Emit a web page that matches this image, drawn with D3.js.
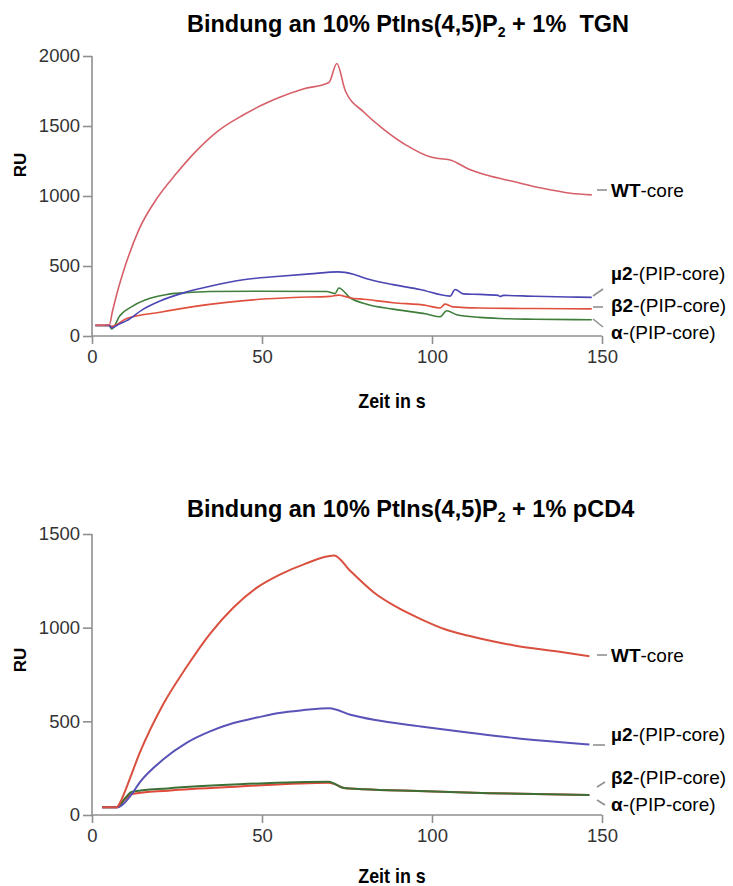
<!DOCTYPE html>
<html>
<head>
<meta charset="utf-8">
<script src="https://cdn.jsdelivr.net/npm/d3@7"></script>
<style>
  html, body { margin: 0; padding: 0; background: #ffffff; }
  svg { display: block; font-family: "Liberation Sans", Arial, sans-serif; }
</style>
</head>
<body>
<svg id="chart" width="733" height="886"></svg>
<script>
// ---------- DATA (time in s, response in RU) ----------
const xTicks = [0, 50, 100, 150];
const yTicksTop = [0, 500, 1000, 1500, 2000];
const yTicksBottom = [0, 500, 1000, 1500];

const seriesNames = ["WT-core", "µ2-(PIP-core)", "β2-(PIP-core)", "α-(PIP-core)"];

// Top panel: 10% PtIns(4,5)P2 + 1% TGN
const topWT = [[1,78],[3,78],[5.1,80],[6,175],[7.3,300],[9.9,510],[13.8,760],[19.3,990],[24.8,1160],[30.4,1315],
  [37.3,1469],[44.2,1575],[49.7,1646],[55.2,1705],[62.1,1764],[69.7,1811],[72,1946],[74.5,1752],[80,1598],
  [85.6,1480],[92.5,1362],[99.4,1280],[102,1268],[105.6,1256],[110.4,1197],[116,1150],[124,1103],
  [132.5,1055],[140.7,1020],[147,1008]];
const topMu2 = [[1,75],[5,75],[5.8,59],[8,85],[10.2,110],[15.1,192],[20,250],[26.9,308],[34.7,355],[44.5,402],
  [54.3,425],[64.1,444],[72.4,458],[76.9,441],[80.8,409],[88.6,367],[96.5,332],[105.3,285],[106.8,332],
  [109.2,301],[114,297],[119.5,290],[120,282],[121,290],[130,284],[140,279],[147,276]];
const topBeta2 = [[1,75],[5,75],[5.8,70],[10.2,125],[20,170],[29.8,210],[39.6,240],[49.4,262],[59.2,275],
  [70,283],[72.5,292],[76,272],[80,262],[88.6,238],[98.4,218],[102.4,200],[103.8,228],[106.2,208],[114,200],
  [130,196],[147,194]];
const topAlpha = [[1,75],[5,75],[5.8,50],[8.2,145],[12.1,215],[17.1,269],[22,297],[26.9,308],[34.7,318],
  [49.5,320],[69,318],[71.5,303],[72.6,343],[75.9,273],[80.8,227],[88.6,192],[98.4,157],[102.4,138],
  [104.3,180],[107.3,152],[114,133],[120,125],[130,120],[147,116]];

// Bottom panel: 10% PtIns(4,5)P2 + 1% pCD4
const botWT = [[3,41],[7.2,41],[8.5,75],[10,140],[14,330],[20.9,590],[27.8,790],[34.7,967],[41.6,1108],[48.5,1214],
  [55.4,1285],[62.3,1338],[71.2,1385],[76,1302],[82.9,1188],[89.8,1108],[96.7,1046],[103.6,993],
  [110.5,958],[124.2,905],[138,870],[146.3,848]];
const botMu2 = [[3,41],[7.5,41],[11.3,102],[14,173],[20.9,296],[27.8,385],[34.7,446],[41.6,491],[48.5,520],
  [55,545],[62.3,560],[69.8,570],[76,535],[82.9,508],[96.7,473],[110.5,441],[124.2,411],[138,388],[146.3,376]];
const botBeta2 = [[3,41],[7.5,41],[9.5,80],[11.8,112],[22.3,130],[43.3,152],[69.6,172],[71.2,166],[73.8,146],
  [80.1,137],[95.9,128],[116.9,116],[146.3,107]];
const botAlpha = [[3,41],[7.5,41],[9.5,85],[11.8,124],[22.3,142],[43.3,164],[69.6,178],[71.2,168],[73.8,146],
  [80.1,137],[95.9,128],[116.9,116],[146.3,107]];

// ---------- LAYOUT / STYLE ----------
const svg = d3.select("#chart");
const axisColor = "#8f8f8f";
const tickColor = "#333333";

const panels = [
  {
    title: ["Bindung an 10% PtIns(4,5)P", "2", " + 1%  TGN"],
    titleX: 187, titleY: 32,
    yDomain: [0, 2000], yRange: [336, 56], yTicks: yTicksTop,
    ruY: 165, xLabelY: 408,
    series: [
      {data: topAlpha, color: "#3f7d3a", w: 1.6},
      {data: topBeta2, color: "#e0503f", w: 1.6},
      {data: topMu2, color: "#4b46b3", w: 1.6},
      {data: topWT, color: "#d65f69", w: 1.6}
    ],
    labels: [
      {name: seriesNames[0], y: 190, conn: [[597,190],[607,190]]},
      {name: seriesNames[1], y: 273, conn: [[593,296],[603,289]]},
      {name: seriesNames[2], y: 305, conn: [[593,307],[603,307]]},
      {name: seriesNames[3], y: 332, conn: [[593,319],[603,327]]}
    ]
  },
  {
    title: ["Bindung an 10% PtIns(4,5)P", "2", " + 1% pCD4"],
    titleX: 187, titleY: 517,
    yDomain: [0, 1500], yRange: [815, 534], yTicks: yTicksBottom,
    ruY: 660, xLabelY: 883,
    series: [
      {data: botBeta2, color: "#e0483a", w: 2},
      {data: botAlpha, color: "#3c6f36", w: 2},
      {data: botMu2, color: "#5953b8", w: 2},
      {data: botWT, color: "#d9503f", w: 2}
    ],
    labels: [
      {name: seriesNames[0], y: 655, conn: [[597,655],[607,655]]},
      {name: seriesNames[1], y: 734, conn: [[593,745],[605,745]]},
      {name: seriesNames[2], y: 777, conn: [[597,787],[605,782]]},
      {name: seriesNames[3], y: 804, conn: [[597,800],[605,805]]}
    ]
  }
];

panels.forEach(p => {
  const x = d3.scaleLinear().domain([0, 150]).range([92, 602]);
  const y = d3.scaleLinear().domain(p.yDomain).range(p.yRange);
  const g = svg.append("g");

  // Title
  const tt = g.append("text").attr("x", p.titleX).attr("y", p.titleY)
    .attr("font-size", 23.5).attr("font-weight", "bold").attr("fill", "#000")
    .style("white-space", "pre");
  tt.append("tspan").text(p.title[0]);
  tt.append("tspan").attr("font-size", 14).attr("dy", 5).text(p.title[1]);
  tt.append("tspan").attr("dy", -5).text(p.title[2]);

  // Y axis
  const yAxis = d3.axisLeft(y).tickValues(p.yTicks).tickSize(9).tickPadding(3).tickFormat(d3.format("d"));
  const ya = g.append("g").attr("transform", `translate(${x(0)},0)`).call(yAxis);
  ya.select(".domain").attr("d", `M0,${y(p.yDomain[1])}V${y(0)}`);
  // X axis
  const xAxis = d3.axisBottom(x).tickValues(xTicks).tickSize(8).tickPadding(6);
  const xa = g.append("g").attr("transform", `translate(0,${y(0)})`).call(xAxis);
  xa.select(".domain").attr("d", `M${x(0)},0H${x(150)}`);
  [ya, xa].forEach(a => {
    a.selectAll(".domain, .tick line").attr("stroke", axisColor).attr("stroke-width", 1.6);
    a.selectAll(".tick text").attr("fill", tickColor).attr("font-size", 18.5)
      .attr("font-family", "'Liberation Sans', Arial, sans-serif");
  });

  // Axis labels
  g.append("text").attr("transform", `translate(26,${p.ruY}) rotate(-90)`)
    .attr("text-anchor", "middle").attr("font-size", 17).attr("font-weight", "bold").text("RU");
  g.append("g").attr("transform", `translate(392,${p.xLabelY}) scale(0.85,1)`)
    .append("text").attr("text-anchor", "middle").attr("font-size", 21).attr("font-weight", "bold")
    .text("Zeit in s");

  // Curves
  const line = d3.line().x(d => x(d[0])).y(d => y(d[1])).curve(d3.curveMonotoneX);
  p.series.forEach(s => {
    g.append("path").datum(s.data).attr("d", line)
      .attr("fill", "none").attr("stroke", s.color).attr("stroke-width", s.w)
      .attr("stroke-linejoin", "round");
  });

  // Series labels with connectors
  p.labels.forEach(l => {
    g.append("line").attr("x1", l.conn[0][0]).attr("y1", l.conn[0][1])
      .attr("x2", l.conn[1][0]).attr("y2", l.conn[1][1])
      .attr("stroke", "#909090").attr("stroke-width", 1.6);
    const dash = l.name.indexOf("-");
    const t = g.append("text").attr("x", 611).attr("y", l.y).attr("dy", "0.35em")
      .attr("font-size", 19).attr("fill", "#000");
    t.append("tspan").attr("font-weight", "bold").text(l.name.slice(0, dash));
    t.append("tspan").text(l.name.slice(dash));
  });
});
</script>
</body>
</html>
